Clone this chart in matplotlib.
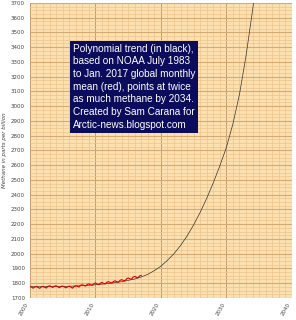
import matplotlib
matplotlib.use("Agg")
import matplotlib.pyplot as plt
from matplotlib.ticker import MultipleLocator

# NOAA global monthly mean methane (ppb), quarterly readings Jan 2000 .. Jan 2017
obs_years = [2000 + i * 0.25 for i in range(69)]
obs_ppb = [
    1777, 1773, 1766, 1774,
    1777, 1771, 1765, 1775,
    1778, 1772, 1767, 1778,
    1782, 1777, 1771, 1780,
    1782, 1776, 1769, 1778,
    1780, 1775, 1768, 1776,
    1779, 1774, 1766, 1777,
    1783, 1779, 1774, 1786,
    1789, 1784, 1780, 1791,
    1795, 1790, 1785, 1796,
    1801, 1796, 1790, 1800,
    1805, 1799, 1795, 1806,
    1810, 1805, 1800, 1811,
    1816, 1811, 1806, 1818,
    1824, 1819, 1815, 1829,
    1835, 1830, 1826, 1841,
    1846, 1840, 1836, 1849,
    1853,
]

# polynomial trend
trend_years = [2000, 2002, 2004, 2006, 2008, 2010, 2012, 2014, 2016, 2017, 2018,
               2019, 2020, 2021, 2022, 2023, 2024, 2025, 2026, 2027, 2028, 2029,
               2030, 2031, 2032, 2033, 2034, 2035]
trend_ppb = [1776, 1776, 1777, 1779, 1783, 1789, 1798, 1810, 1828, 1842, 1860,
             1885, 1915, 1955, 2000, 2055, 2120, 2195, 2280, 2375, 2480, 2595,
             2720, 2880, 3080, 3340, 3650, 3980]

x_ticks = [2000, 2010, 2020, 2030, 2040]

fig = plt.figure(figsize=(2.96, 3.2), dpi=100)
ax = fig.add_axes([0.101, 0.069, 0.885, 0.922])
ax.set_facecolor("#fde0b0")

ax.plot(trend_years, trend_ppb, color="#333333", lw=0.5, zorder=3)
ax.plot(obs_years, obs_ppb, color="#e00000", lw=0.8, zorder=4)

ax.set_xlim(2000, 2040)
ax.set_ylim(1700, 3700)
ax.set_xticks(x_ticks)
ax.xaxis.set_minor_locator(MultipleLocator(1))
ax.yaxis.set_major_locator(MultipleLocator(100))
ax.yaxis.set_minor_locator(MultipleLocator(25))

ax.grid(which="minor", color="#ecc48c", lw=0.5)
ax.grid(which="major", axis="y", color="#d4aa72", lw=0.8)
ax.grid(which="major", axis="x", color="#c49c6c", lw=0.7)
ax.set_axisbelow(True)

for s in ax.spines.values():
    s.set_visible(False)
ax.tick_params(which="both", length=0, labelsize=4, labelcolor="#444444")
ax.tick_params(axis="x", pad=3)
for lbl in ax.get_xticklabels():
    lbl.set_rotation(60)
    lbl.set_ha("right")
    lbl.set_va("top")

ax.set_ylabel("Methane in parts per billion", fontsize=4, style="italic",
              color="#444444", labelpad=3)

note = ("Polynomial trend (in black),\nbased on NOAA July 1983\n"
        "to Jan. 2017 global monthly\nmean (red), points at twice\n"
        "as much methane by 2034.\nCreated by Sam Carana for\n"
        "Arctic-news.blogspot.com")
fig.text(0.247, 0.863, note, color="white", fontsize=7.2, va="top", ha="left",
         family=["Liberation Sans", "DejaVu Sans"],
         linespacing=1.33,
         bbox=dict(boxstyle="square,pad=0.3", fc="#0c0c5c", ec="none"))

fig.savefig("out.png", dpi=100)
